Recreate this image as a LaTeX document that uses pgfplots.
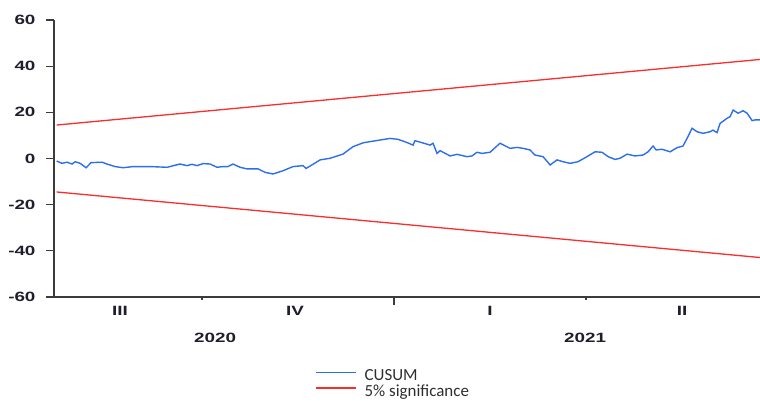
\documentclass[border=0pt]{standalone}
\usepackage{fontspec}
\setmainfont{Liberation Sans}
\newfontfamily\legendfont{Carlito}
\usepackage{pgfplots}
\pgfplotsset{compat=1.18}

\definecolor{cusumblue}{RGB}{45,110,235}
\definecolor{sigred}{RGB}{250,45,45}
\definecolor{axisgray}{RGB}{60,60,60}
\definecolor{labeltext}{RGB}{30,30,45}

\newcommand\ticklbl{\fontsize{13.5}{15}\selectfont\bfseries}

% x = quarters counted from 1 Jul 2020 (1 = start of Q4 2020)
\pgfplotstableread{
q      cusum
0.243  -1.1
0.271  -2.1
0.297  -1.6
0.323  -2.4
0.339  -1.4
0.365  -2.1
0.396  -4.0
0.422  -1.8
0.479  -1.6
0.505  -2.4
0.547  -3.5
0.589  -4.0
0.641  -3.5
0.729  -3.5
0.818  -3.8
0.885  -2.4
0.922  -3.1
0.948  -2.5
0.974  -3.1
1.005  -2.2
1.042  -2.4
1.078  -3.8
1.109  -3.5
1.135  -3.5
1.161  -2.4
1.198  -3.8
1.234  -4.5
1.292  -4.5
1.328  -6.0
1.370  -6.7
1.422  -5.3
1.474  -3.5
1.526  -3.1
1.542  -4.3
1.578  -2.5
1.615  -0.6
1.667   0.1
1.708   1.2
1.734   1.9
1.786   5.1
1.839   6.8
1.875   7.3
1.927   8.0
1.979   8.7
2.021   8.3
2.068   6.9
2.099   5.8
2.109   7.7
2.135   7.1
2.188   5.8
2.203   6.6
2.224   2.2
2.240   3.4
2.292   1.1
2.328   1.8
2.380   0.8
2.406   1.1
2.432   2.7
2.458   2.2
2.500   2.7
2.552   6.6
2.604   4.4
2.641   4.8
2.672   4.4
2.708   3.7
2.734   1.5
2.776   0.8
2.813  -2.8
2.849  -0.6
2.880  -1.4
2.917  -2.1
2.958  -1.4
3.005   0.8
3.047   2.9
3.083   2.7
3.115   0.8
3.151  -0.4
3.177   0.1
3.214   1.9
3.255   1.1
3.297   1.5
3.323   2.9
3.349   5.4
3.365   3.7
3.396   4.0
3.438   2.9
3.474   4.7
3.505   5.4
3.531   9.5
3.552  13.1
3.578  11.6
3.609  10.9
3.646  11.6
3.661  12.3
3.682  11.2
3.698  15.2
3.734  17.4
3.750  18.1
3.766  21.0
3.792  19.6
3.818  20.7
3.839  19.6
3.865  16.4
3.880  16.7
3.906  16.7
}\cusumdata

\begin{document}
\begin{tikzpicture}
\begin{axis}[
  scale only axis,
  width=706bp, height=277bp,
  xmin=0.229, xmax=3.906,
  ymin=-60, ymax=60,
  axis x line*=bottom, axis y line*=left,
  axis line style={axisgray, line width=1.2bp},
  every tick/.style={axisgray, line width=1.2bp},
  tick align=outside,
  major tick length=8bp, minor tick length=3bp,
  ytick={-60,-40,...,60},
  xtick={2}, minor xtick={1,3}, xticklabels={},
  extra x ticks={0.573,1.484,2.5,3.5},
  extra x tick labels={III,IV,I,II},
  extra x tick style={major tick length=0pt, tick label style={yshift=-6bp}},
  tick label style={font=\ticklbl, text=labeltext, xscale=1.4},
  yticklabel style={xshift=-4bp},
  /pgf/number format/assume math mode=true,
  legend style={at={(0.3697,-0.262)}, anchor=north west, draw=none, fill=none,
    inner sep=0pt, row sep=0pt, column sep=8bp,
    font=\legendfont\fontsize{17}{15}\selectfont, text=black!82,
    nodes={inner sep=0pt, text height=11bp, text depth=4.5bp}},
  legend cell align=left,
  legend image code/.code={\draw[#1] (0bp,5bp) -- (40bp,5bp);},
]
\addplot[cusumblue, line width=1.4bp] table[x=q, y=cusum] {\cusumdata};
\addlegendentry{CUSUM}
\addplot[sigred, line width=1.3bp] coordinates {(0.243,14.5) (3.906,42.9)};
\addlegendentry{5\% significance}
\addplot[sigred, line width=1.3bp, forget plot] coordinates {(0.243,-14.5) (3.906,-42.9)};
\coordinate (l2020) at (axis cs:1.068,-60);
\coordinate (l2021) at (axis cs:2.995,-60);
\end{axis}
\node[font=\ticklbl, text=labeltext, xscale=1.4] at ([yshift=-41bp]l2020) {2020};
\node[font=\ticklbl, text=labeltext, xscale=1.4] at ([yshift=-41bp]l2021) {2021};
\pgfresetboundingbox
\path[use as bounding box] (-54bp,-104bp) rectangle (706bp,297bp);
\end{tikzpicture}
\end{document}
